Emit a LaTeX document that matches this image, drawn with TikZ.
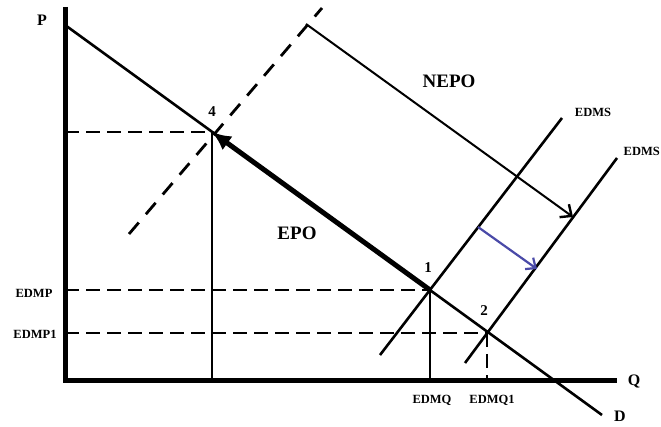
\documentclass[tikz,border=0pt]{standalone}
\usepackage{fontspec}
\setmainfont{Liberation Serif}
\usetikzlibrary{arrows.meta}
\tikzset{
  axis/.style={line width=5pt},
  curve/.style={line width=2.6pt},
  guide/.style={line width=2.8pt, dash pattern=on 14pt off 7pt},
  drop/.style={line width=2.6pt},
  biglab/.style={font=\bfseries\fontsize{19}{19}\selectfont, inner sep=0pt},
  axlab/.style={font=\bfseries\fontsize{16}{16}\selectfont, inner sep=0pt},
  numlab/.style={font=\bfseries\fontsize{15}{15}\selectfont, inner sep=0pt},
  smlab/.style={font=\bfseries\fontsize{12.5}{12.5}\selectfont, inner sep=0pt},
  barb/.style={-{Straight Barb[length=9pt,width=16pt,line width=2.4pt]}}
}
\definecolor{shiftblue}{HTML}{4A4AA8}
\begin{document}
\begin{tikzpicture}[x=1pt,y=-1pt]
\useasboundingbox (0,0) rectangle (661,427);
% key points
\coordinate (O) at (65,380);
\coordinate (Ptop) at (65,7);
\coordinate (Qend) at (617,380);
\coordinate (Dstart) at (65,25);
\coordinate (Dend) at (602,415);
\coordinate (p1) at (430,290);
\coordinate (p2) at (487,333);
\coordinate (p4) at (212,132);
\coordinate (ax1) at (65,290);
\coordinate (ax2) at (65,333);
\coordinate (ax4) at (65,132);
\coordinate (q1) at (430,380);
\coordinate (q2) at (487,380);
\coordinate (q4) at (212,380);
\coordinate (s1a) at (380,355);
\coordinate (s1b) at (562,118);
\coordinate (s2a) at (465,363);
\coordinate (s2b) at (617,158);
\coordinate (dla) at (129,234);
\coordinate (dlb) at (322,8);
\coordinate (n1) at (306,24);
\coordinate (n2) at (573,217);
\coordinate (b1) at (478,227);
\coordinate (b2) at (537,269);
% guides
\draw[guide] (ax4) -- (p4);
\draw[guide] (ax1) -- (p1);
\draw[guide] (ax2) -- (p2);
\draw[drop] (p4) -- (q4);
\draw[drop] (p1) -- (q1);
\draw[guide] (p2) -- (q2);
% supply lines
\draw[curve] (s1a) -- (s1b);
\draw[curve] (s2a) -- (s2b);
% dashed line through 4
\draw[line width=2.8pt, dash pattern=on 15pt off 11pt] (dla) -- (dlb);
% demand
\draw[curve] (Dstart) -- (Dend);
% axes
\draw[axis] (Ptop) -- (O) -- (Qend);
% EPO arrow
\draw[line width=5pt, -{Latex[length=19pt,width=17pt]}] (p1) -- (p4);
% NEPO arrow
\draw[line width=2pt, barb] (n1) -- (n2);
% blue shift arrow
\draw[line width=2.2pt, shiftblue, -{Straight Barb[length=8pt,width=14pt,line width=2.2pt]}] (b1) -- (b2);
% labels
\node[axlab] (lP) at (42,20) {P};
\node[axlab] (lQ) at (634,381) {Q};
\node[axlab] (lD) at (620,416) {D};
\node[biglab] (lN) at (449,81) {NEPO};
\node[biglab] (lE) at (297,233) {EPO};
\node[numlab] (l4) at (212,112) {4};
\node[numlab] (l1) at (428,268) {1};
\node[numlab] (l2) at (484,311) {2};
\node[smlab] (lEDMP) at (34,293) {EDMP};
\node[smlab] (lEDMP1) at (35,334) {EDMP1};
\node[smlab] (lEDMQ) at (432,400) {EDMQ};
\node[smlab] (lEDMQ1) at (492,400) {EDMQ1};
\node[smlab] (lS1) at (593,112) {EDMS};
\node[smlab, anchor=east] (lS2) at (660,151) {EDMS};
\end{tikzpicture}
\end{document}
